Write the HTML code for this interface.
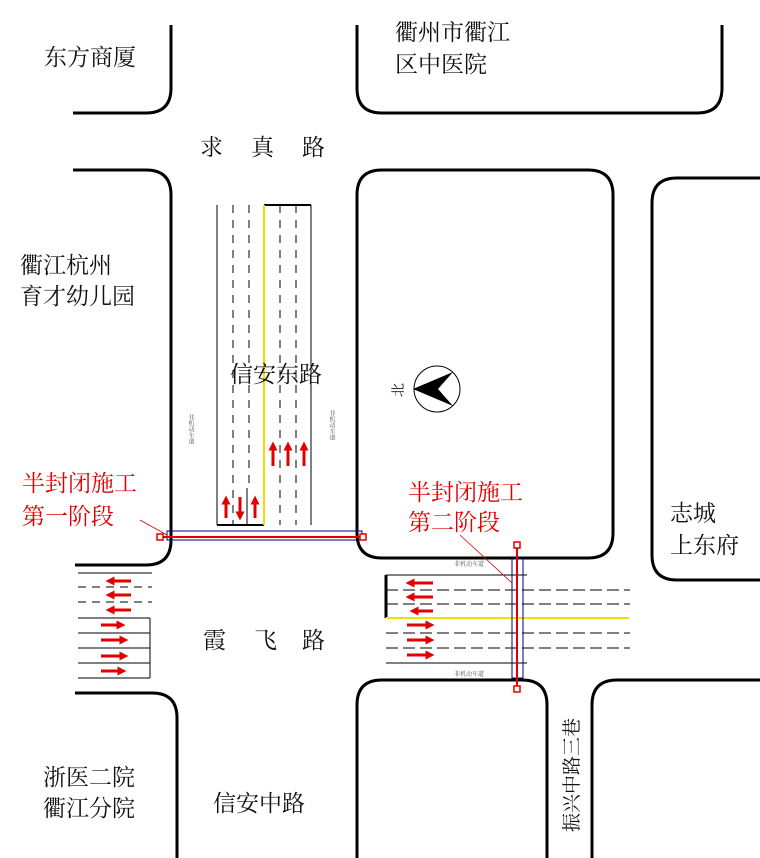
<!DOCTYPE html>
<html><head><meta charset="utf-8"><style>
html,body{margin:0;padding:0;background:#fff;}
svg{display:block}
text{font-family:"Liberation Serif","Noto Serif CJK SC",serif;font-size:23px;fill:#111}
.r{fill:#e00000}
.s{font-size:6px;fill:#555}
</style></head><body>
<svg width="760" height="858" viewBox="0 0 760 858" xmlns="http://www.w3.org/2000/svg">
<defs>
<marker id="ah" markerWidth="3" markerHeight="3" refX="1.5" refY="1.5" orient="auto"><path d="M0,0 L3,1.5 L0,3 z" fill="#e00000"/></marker>
</defs>
<g fill="none" stroke="#000" stroke-width="3">
<path d="M171,25 V88 Q171,113 146,113 H73"/>
<path d="M357,25 V88 Q357,113 382,113 H697 Q722,113 722,88 V25"/>
<path d="M73,170 H146 Q171,170 171,195 V540 Q171,565 146,565 H75"/>
<path d="M357,195 Q357,170 382,170 H588 Q613,170 613,195 V533 Q613,558 588,558 H382 Q357,558 357,533 Z"/>
<path d="M760,178 H677 Q652,178 652,203 V555 Q652,580 677,580 H760"/>
<path d="M75,693 H152 Q177,693 177,718 V858"/>
<path d="M357,858 V705 Q357,680 382,680 H522 Q547,680 547,705 V858"/>
<path d="M592,858 V705 Q592,680 617,680 H760"/>
</g>
<g stroke="#000" stroke-width="1" fill="none">
<line x1="217" y1="205" x2="217" y2="525"/>
<line x1="233" y1="205" x2="233" y2="525" stroke-dasharray="8,7"/>
<line x1="249" y1="205" x2="249" y2="488" stroke-dasharray="8,7"/>
<line x1="247" y1="488" x2="247" y2="525"/>
<line x1="280" y1="205" x2="280" y2="525" stroke-dasharray="8,7"/>
<line x1="296" y1="205" x2="296" y2="525" stroke-dasharray="8,7"/>
<line x1="311" y1="205" x2="311" y2="525"/>
<line x1="264" y1="205" x2="311" y2="205" stroke-width="2"/>
<line x1="217" y1="525" x2="264" y2="525" stroke-width="2"/>
</g>
<line x1="264" y1="205" x2="264" y2="525" stroke="#f0e000" stroke-width="2"/>
<g stroke="#e00000" stroke-width="3" marker-end="url(#ah)">
<line x1="273" y1="466" x2="273" y2="446"/>
<line x1="288" y1="466" x2="288" y2="446"/>
<line x1="304" y1="466" x2="304" y2="446"/>
<line x1="240" y1="497" x2="240" y2="516"/>
<line x1="226" y1="518" x2="226" y2="500"/>
<line x1="255" y1="518" x2="255" y2="500"/>
</g>
<text class="s" x="190" y="414" style="writing-mode:tb">非机动车道</text>
<text class="s" x="331" y="410" style="writing-mode:tb">非机动车道</text>
<rect x="167" y="531" width="195" height="9" fill="none" stroke="#000080" stroke-width="1"/>
<line x1="160" y1="537" x2="363" y2="537" stroke="#e00000" stroke-width="2"/>
<rect x="157" y="534" width="6" height="6" fill="#fff" stroke="#e00000" stroke-width="1.5"/>
<rect x="360" y="534" width="6" height="6" fill="#fff" stroke="#e00000" stroke-width="1.5"/>
<line x1="140" y1="520" x2="167" y2="535" stroke="#e00000" stroke-width="0.8"/>
<g stroke="#000" stroke-width="1" fill="none">
<line x1="78" y1="573" x2="152" y2="573"/>
<line x1="78" y1="587" x2="152" y2="587" stroke-dasharray="8,6"/>
<line x1="78" y1="602" x2="152" y2="602" stroke-dasharray="8,6"/>
<line x1="78" y1="618" x2="150" y2="618"/>
<line x1="78" y1="633" x2="150" y2="633"/>
<line x1="78" y1="648" x2="150" y2="648"/>
<line x1="78" y1="663" x2="150" y2="663"/>
<line x1="78" y1="678" x2="150" y2="678"/>
<line x1="150" y1="618" x2="150" y2="678"/>
</g>
<g stroke="#e00000" stroke-width="3" marker-end="url(#ah)">
<line x1="131" y1="581" x2="110" y2="581"/>
<line x1="131" y1="595" x2="110" y2="595"/>
<line x1="131" y1="610" x2="110" y2="610"/>
<line x1="101" y1="625" x2="121" y2="625"/>
<line x1="101" y1="640" x2="124" y2="640"/>
<line x1="101" y1="656" x2="124" y2="656"/>
<line x1="101" y1="671" x2="122" y2="671"/>
</g>
<g stroke="#000" stroke-width="1" fill="none">
<line x1="386" y1="575" x2="527" y2="575"/>
<line x1="386" y1="590" x2="630" y2="590" stroke-dasharray="12,5"/>
<line x1="386" y1="604" x2="630" y2="604" stroke-dasharray="12,5"/>
<line x1="386" y1="633" x2="630" y2="633" stroke-dasharray="12,5"/>
<line x1="386" y1="648" x2="630" y2="648" stroke-dasharray="12,5"/>
<line x1="386" y1="663" x2="527" y2="663"/>
<line x1="386" y1="575" x2="386" y2="618" stroke-width="3"/>
</g>
<line x1="386" y1="618" x2="629" y2="618" stroke="#f0e000" stroke-width="2"/>
<g stroke="#e00000" stroke-width="3" marker-end="url(#ah)">
<line x1="433" y1="583" x2="410" y2="583"/>
<line x1="433" y1="597" x2="410" y2="597"/>
<line x1="433" y1="611" x2="414" y2="611"/>
<line x1="407" y1="625" x2="430" y2="625"/>
<line x1="407" y1="640" x2="430" y2="640"/>
<line x1="407" y1="655" x2="430" y2="655"/>
</g>
<text class="s" x="454" y="566">非机动车道</text>
<text class="s" x="454" y="676">非机动车道</text>
<rect x="512" y="559" width="11" height="119" fill="none" stroke="#000080" stroke-width="1"/>
<line x1="517" y1="545" x2="517" y2="689" stroke="#e00000" stroke-width="2"/>
<rect x="514" y="542" width="6" height="6" fill="#fff" stroke="#e00000" stroke-width="1.5"/>
<rect x="514" y="686" width="6" height="6" fill="#fff" stroke="#e00000" stroke-width="1.5"/>
<line x1="460" y1="535" x2="512" y2="583" stroke="#e00000" stroke-width="0.8"/>
<circle cx="437" cy="389" r="23" fill="none" stroke="#000" stroke-width="1"/>
<path d="M413,389 L453,372 L438,389 L453,406 Z" fill="#000"/>
<text x="395" y="389" style="font-size:14px" transform="rotate(-90 403 389)">北</text>
<text x="44" y="65">东方商厦</text>
<text x="395" y="40">衢州市衢江</text>
<text x="395" y="72">区中医院</text>
<text x="200" y="155">求</text><text x="251" y="155">真</text><text x="302" y="155">路</text>
<text x="20" y="273">衢江杭州</text>
<text x="20" y="304">育才幼儿园</text>
<text x="230" y="382">信安东路</text>
<text class="r" x="22" y="491">半封闭施工</text>
<text class="r" x="22" y="524">第一阶段</text>
<text class="r" x="408" y="500">半封闭施工</text>
<text class="r" x="408" y="530">第二阶段</text>
<text x="670" y="521">志城</text>
<text x="670" y="553">上东府</text>
<text x="203" y="648">霞</text><text x="254" y="648">飞</text><text x="302" y="648">路</text>
<text x="43" y="785">浙医二院</text>
<text x="43" y="816">衢江分院</text>
<text x="213" y="811">信安中路</text>
<text x="578" y="832" style="font-size:19px" transform="rotate(-90 578 832)">振兴中路三巷</text>
</svg>
</body></html>
